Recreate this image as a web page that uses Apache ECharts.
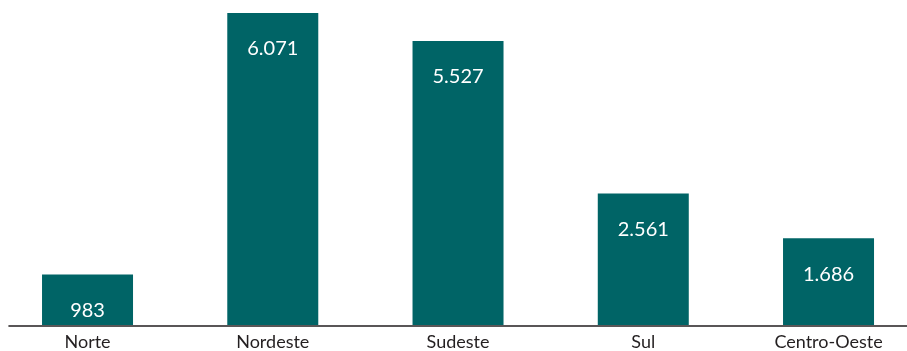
<!DOCTYPE html>
<html>
<head>
<meta charset="utf-8">
<style>
  html, body { margin: 0; padding: 0; background: #ffffff; }
  #chart { width: 907px; height: 351px; }
</style>
<script src="https://cdn.jsdelivr.net/npm/echarts@6/dist/echarts.min.js"></script>
</head>
<body>
<div id="chart"></div>
<script>
// Regiões e valores
const regioes = ['Norte', 'Nordeste', 'Sudeste', 'Sul', 'Centro-Oeste'];
const valores = [983, 6071, 5527, 2561, 1686];

// Formato brasileiro com ponto como separador de milhar
function fmt(v) {
  return String(v).replace(/\B(?=(\d{3})+(?!\d))/g, '.');
}

const chart = echarts.init(document.getElementById('chart'), null, { renderer: 'canvas' });

chart.setOption({
  animation: false,
  backgroundColor: '#ffffff',
  grid: [
    // barras (a faixa das categorias passa um pouco das bordas)
    { left: -5.1, width: 926.25, top: 13, bottom: 26, containLabel: false, outerBoundsMode: 'none' },
    // linha de base
    { left: 9, right: 0, top: 13, bottom: 25.3, containLabel: false, outerBoundsMode: 'none' }
  ],
  xAxis: [
    {
      type: 'category',
      gridIndex: 0,
      data: regioes,
      axisLine: { show: false },
      axisTick: { show: false },
      axisLabel: {
        color: '#231f20',
        fontFamily: 'Lato',
        fontSize: 18,
        margin: 8
      }
    },
    {
      type: 'value',
      gridIndex: 1,
      min: 0,
      max: 1,
      axisLine: { show: true, onZero: false, lineStyle: { color: '#231f20', width: 1.6 } },
      axisTick: { show: false },
      axisLabel: { show: false },
      splitLine: { show: false }
    }
  ],
  yAxis: [
    { type: 'value', gridIndex: 0, min: 0, max: 6071, show: false, splitLine: { show: false } },
    { type: 'value', gridIndex: 1, min: 0, max: 1, show: false, splitLine: { show: false } }
  ],
  series: [
    {
      type: 'bar',
      xAxisIndex: 0,
      yAxisIndex: 0,
      data: valores,
      barWidth: 91,
      itemStyle: { color: '#006466' },
      label: {
        show: true,
        position: 'insideTop',
        distance: 26,
        color: '#ffffff',
        fontFamily: 'Lato',
        fontSize: 20,
        formatter: p => fmt(p.value)
      }
    }
  ]
});
</script>
</body>
</html>
